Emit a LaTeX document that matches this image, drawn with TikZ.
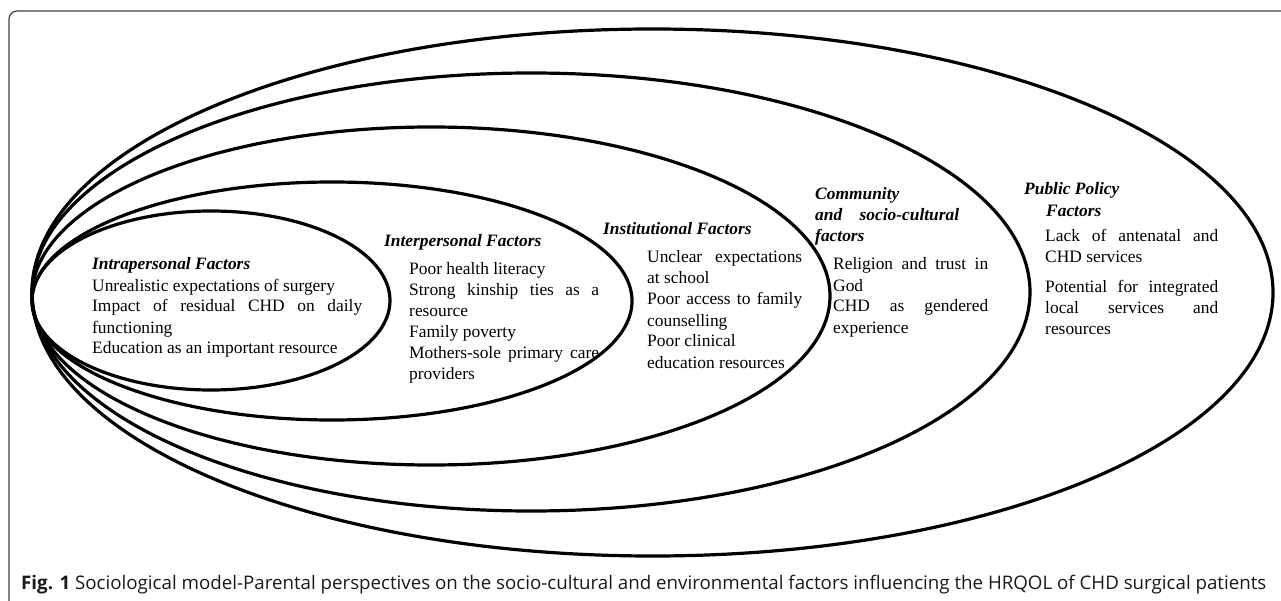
\documentclass[tikz,border=0pt]{standalone}
\usepackage{fontspec}
\setmainfont{Liberation Serif}
\newfontfamily\capfont{Open Sans}
\usepackage{graphicx}
\newcommand{\blk}[2]{\begin{minipage}[t]{#1}\setlength{\parindent}{0pt}\setlength{\parskip}{0pt}\tolerance=10000\hbadness=10000\hyphenpenalty=10000\exhyphenpenalty=10000 #2\end{minipage}}
\tikzset{
  ring/.style={line width=3.2pt, draw=black},
  frame/.style={line width=1.2pt, draw=black!75, rounded corners=8pt},
  txt/.style={anchor=base west, inner sep=0pt, font=\fontsize{17.4}{21}\selectfont},
  ttl/.style={anchor=base west, inner sep=0pt, font=\fontsize{17.4}{21}\selectfont\bfseries\itshape},
}
\begin{document}
\begin{tikzpicture}[x=1pt,y=-1pt]
\useasboundingbox (0,0) rectangle (1281,601);
% frame (open at right and bottom)
\draw[frame] (9,615) -- (9,11) -- (1300,11);
% nested ellipses
\draw[ring] (211,300.5) ellipse [x radius=179pt, y radius=89.5pt];
\draw[ring] (332,301) ellipse [x radius=300pt, y radius=119pt];
\draw[ring] (431,296) ellipse [x radius=399pt, y radius=169pt];
\draw[ring] (531,292) ellipse [x radius=499pt, y radius=219pt];
\draw[ring] (652.5,292.5) ellipse [x radius=620.5pt, y radius=263.5pt];
% Intrapersonal
\node[txt] (intra) at (92,270) {\blk{270pt}{\textbf{\textit{Intrapersonal Factors}}\par
Unrealistic expectations of surgery\par
Impact of residual CHD on daily\linebreak functioning\par
Education as an important resource}};
% Interpersonal
\node[ttl] (interT) at (384,247) {Interpersonal Factors};
\node[txt] (interB) at (409,275) {\blk{190pt}{Poor health literacy\par
Strong kinship ties as a\linebreak resource\par
Family poverty\par
Mothers-sole primary care\linebreak providers}};
% Institutional
\node[ttl] (instT) at (603,235) {Institutional Factors};
\node[txt] (instB) at (647,263) {\blk{155pt}{Unclear expectations\linebreak at school\par
Poor access to family\linebreak counselling\par
Poor clinical\\ education resources}};
% Community
\node[txt] (commT) at (815,200) {\blk{144pt}{\bfseries\itshape Community\\ and socio-cultural\linebreak factors}};
\node[txt] (commB) at (833,270) {\blk{155pt}{Religion and trust in\linebreak God\par
CHD as gendered\linebreak experience}};
% Public policy
\node[ttl] (pubT1) at (1024,195) {Public Policy};
\node[ttl] (pubT2) at (1046,217) {Factors};
\node[txt] (pubB) at (1045,242) {\blk{173pt}{Lack of antenatal and\linebreak CHD services\par\vspace{9pt}
Potential for integrated\linebreak local services and\linebreak resources}};
% caption
\node[anchor=base west, inner sep=0pt, text=black!90] (cap) at (21,589) {\resizebox{1245pt}{!}{\capfont\fontsize{16}{19}\selectfont\textbf{Fig. 1} Sociological model-Parental perspectives on the socio-cultural and environmental factors influencing the HRQOL of CHD surgical patients}};
\end{tikzpicture}
\end{document}
